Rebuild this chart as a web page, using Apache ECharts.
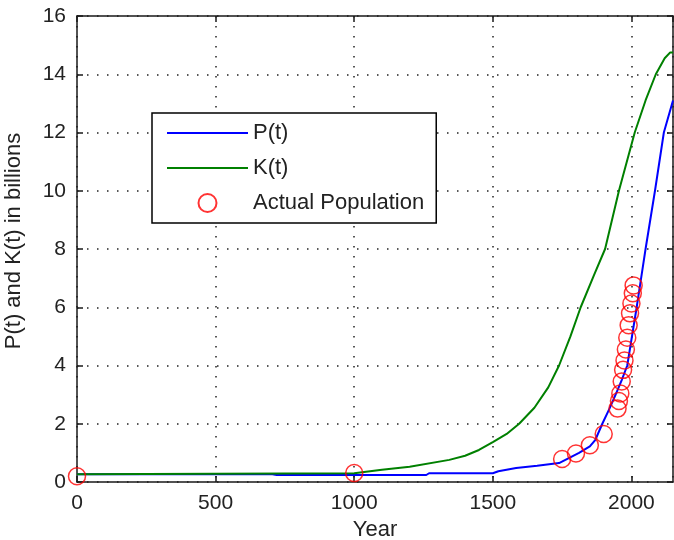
<!DOCTYPE html>
<html>
<head>
<meta charset="utf-8">
<script src="https://cdn.jsdelivr.net/npm/echarts@6/dist/echarts.min.js"></script>
<style>
html,body{margin:0;padding:0;background:#fff;}
#chart{width:674px;height:540px;}
</style>
</head>
<body>
<div id="chart"></div>
<script>
// ---- data ----
const pYears = [0, 700, 720, 1260, 1270, 1500, 1520, 1584, 1660, 1739, 1811, 1850, 1870, 1895, 1920, 1943, 1965, 1985, 2019, 2039, 2051, 2085, 2117, 2150];
const pValues = [0.27, 0.27, 0.24, 0.24, 0.30, 0.30, 0.37, 0.48, 0.56, 0.65, 1.0, 1.22, 1.45, 2.0, 2.5, 3.0, 3.5, 4.0, 6.0, 7.25, 8.0, 10.0, 12.0, 13.1];

const kYears = [0, 1000, 1050, 1100, 1200, 1343, 1400, 1450, 1500, 1550, 1595, 1650, 1700, 1739, 1780, 1817, 1865, 1905, 1955, 2012, 2051, 2088, 2120, 2140, 2150];
const kValues = [0.27, 0.30, 0.36, 0.42, 0.52, 0.76, 0.9, 1.1, 1.37, 1.65, 2.0, 2.55, 3.25, 4.0, 5.0, 6.0, 7.1, 8.0, 10.0, 12.0, 13.1, 14.0, 14.55, 14.75, 14.75];

const actualYears = [0, 1000, 1750, 1800, 1850, 1900, 1950, 1955, 1960, 1965, 1970, 1975, 1980, 1985, 1990, 1995, 2000, 2005, 2008];
const actualValues = [0.2, 0.31, 0.79, 0.98, 1.26, 1.65, 2.52, 2.78, 3.04, 3.45, 3.85, 4.17, 4.55, 4.95, 5.38, 5.79, 6.13, 6.48, 6.75];

const seriesNames = ['P(t)', 'K(t)', 'Actual Population'];
const xTicks = [0, 500, 1000, 1500, 2000];
const yTicks = [0, 2, 4, 6, 8, 10, 12, 14, 16];
const xLabel = 'Year';
const yLabel = 'P(t) and K(t) in billions';

// ---- chart ----
const pair = (xs, ys) => xs.map((x, i) => [x, ys[i]]);
const FONT = 'Liberation Sans, Arial, sans-serif';
const AX = '#1a1a1a';
const TXT = '#222';
const gridLine = { show: true, lineStyle: { color: '#222', width: 1.5, type: [1.5, 8.5] } };
const lineIcon = 'path://M0,0H81V2H0Z';

const chart = echarts.init(document.getElementById('chart'), null, { renderer: 'canvas' });
chart.setOption({
  animation: false,
  backgroundColor: '#fff',
  textStyle: { fontFamily: FONT },
  grid: { left: 77, right: 1, top: 16, bottom: 58, containLabel: false, outerBoundsMode: 'none' },
  legend: {
    orient: 'vertical',
    left: 152, top: 113,
    padding: [9, 12, 9, 15],
    itemWidth: 81, itemHeight: 18, itemGap: 13,
    symbolKeepAspect: true,
    backgroundColor: '#fff',
    borderColor: '#000', borderWidth: 1.5, borderRadius: 0,
    textStyle: { fontFamily: FONT, fontSize: 22, color: TXT },
    data: [
      { name: seriesNames[0], icon: lineIcon },
      { name: seriesNames[1], icon: lineIcon },
      { name: seriesNames[2] }
    ]
  },
  xAxis: [{
    type: 'value', min: 0, max: 2150, interval: 500,
    name: xLabel, nameLocation: 'middle', nameGap: 37,
    nameTextStyle: { fontFamily: FONT, fontSize: 22, color: TXT },
    axisLine: { show: true, onZero: false, lineStyle: { color: AX, width: 1.5 } },
    axisTick: { show: true, inside: true, length: 6, lineStyle: { color: AX, width: 1.5 } },
    axisLabel: { fontFamily: FONT, fontSize: 21, color: TXT, margin: 11,
      showMaxLabel: false,
      formatter: v => (xTicks.indexOf(v) >= 0 ? String(v) : '') },
    splitLine: gridLine
  }, {
    type: 'value', min: 0, max: 2150, interval: 500, position: 'top',
    axisLine: { show: true, onZero: false, lineStyle: { color: AX, width: 1.5 } },
    axisTick: { show: true, inside: true, length: 6, lineStyle: { color: AX, width: 1.5 } },
    axisLabel: { show: false }, splitLine: { show: false }
  }],
  yAxis: [{
    type: 'value', min: 0, max: 16, interval: 2,
    name: yLabel, nameLocation: 'middle', nameGap: 52, nameRotate: 90,
    nameTextStyle: { fontFamily: FONT, fontSize: 22, color: TXT, padding: [0, 0, 0, 16] },
    axisLine: { show: true, onZero: false, lineStyle: { color: AX, width: 1.5 } },
    axisTick: { show: true, inside: true, length: 6, lineStyle: { color: AX, width: 1.5 } },
    axisLabel: { fontFamily: FONT, fontSize: 21, color: TXT, margin: 11,
      formatter: v => (yTicks.indexOf(v) >= 0 ? String(v) : '') },
    splitLine: gridLine
  }, {
    type: 'value', min: 0, max: 16, interval: 2, position: 'right',
    axisLine: { show: true, onZero: false, lineStyle: { color: AX, width: 1.5 } },
    axisTick: { show: true, inside: true, length: 6, lineStyle: { color: AX, width: 1.5 } },
    axisLabel: { show: false }, splitLine: { show: false }
  }],
  series: [{
    name: seriesNames[0], type: 'line', symbol: 'none', smooth: false,
    data: pair(pYears, pValues),
    lineStyle: { color: '#0000ff', width: 2 }, itemStyle: { color: '#0000ff' },
    z: 3
  }, {
    name: seriesNames[1], type: 'line', symbol: 'none', smooth: false,
    data: pair(kYears, kValues),
    lineStyle: { color: '#008000', width: 2 }, itemStyle: { color: '#008000' },
    z: 4
  }, {
    name: seriesNames[2], type: 'scatter', symbol: 'circle', symbolSize: 17,
    data: pair(actualYears, actualValues),
    itemStyle: { color: 'rgba(255,255,255,0)', borderColor: '#ff0000', borderWidth: 1.5 },
    z: 5
  }]
});
</script>
</body>
</html>
